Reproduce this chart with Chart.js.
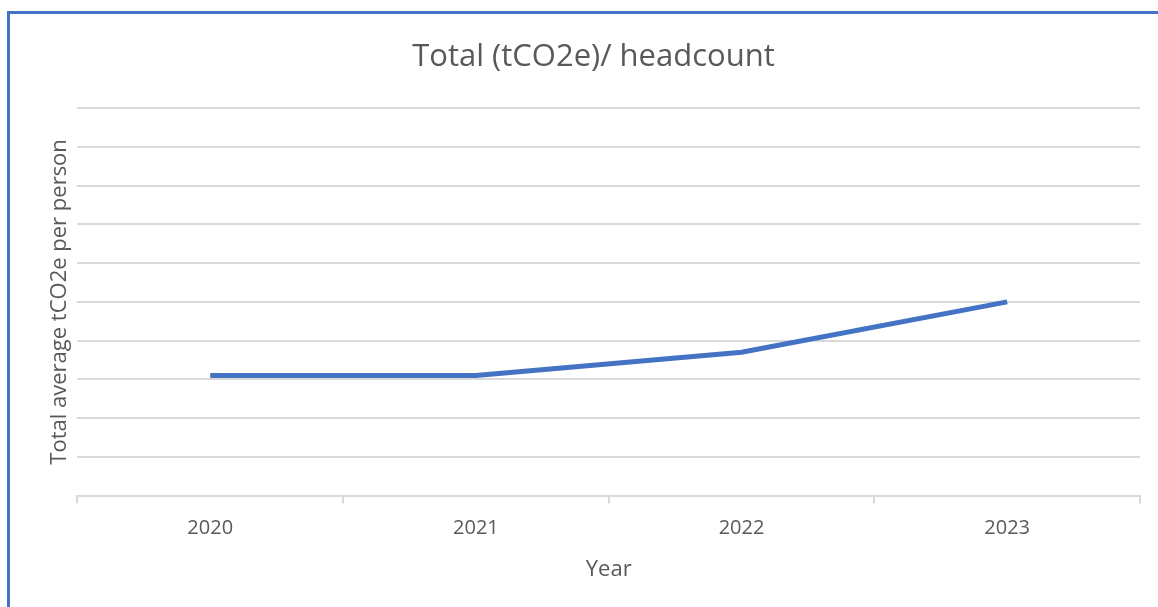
<!DOCTYPE html>
<html>
<head>
<meta charset="utf-8">
<script src="https://cdn.jsdelivr.net/npm/chart.js@4"></script>
<style>
  body { margin: 0; background: #fff; }
  #frame { position: absolute; left: 7px; top: 11px; width: 1200px; height: 700px;
           border-left: 3px solid #4472C4; border-top: 3px solid #4472C4; }
  #wrap { position: absolute; left: 0; top: 0; width: 1158px; height: 607px; }
</style>
</head>
<body>
<div id="frame"></div>
<div id="wrap"><canvas id="chart"></canvas></div>
<script>
var years = ["2020", "2021", "2022", "2023"];
var perPerson = [3.1, 3.1, 3.7, 5.0];

var grey = '#595959';
var gridGrey = '#d9d9d9';

var myChart = new Chart(document.getElementById('chart'), {
    type: 'line',
    data: {
        labels: years,
        datasets: [{
            label: 'Total (tCO2e)/ headcount',
            data: perPerson,
            borderColor: '#4472C4',
            borderWidth: 5,
            pointRadius: 0,
            fill: false,
            tension: 0
        }]
    },
    options: {
        responsive: true,
        maintainAspectRatio: false,
        animation: false,
        layout: { padding: { left: 47, right: 18, top: 39, bottom: 24 } },
        plugins: {
            legend: { display: false },
            tooltip: { enabled: false },
            title: {
                display: true,
                text: 'Total (tCO2e)/ headcount',
                color: grey,
                font: { family: 'Open Sans', size: 31, weight: 'normal' },
                padding: { top: 0, bottom: 32 }
            }
        },
        scales: {
            x: {
                offset: true,
                grid: {
                    display: true,
                    offset: true,
                    drawOnChartArea: false,
                    drawTicks: true,
                    tickLength: 8,
                    color: gridGrey,
                    lineWidth: 2
                },
                border: { display: true, color: gridGrey, width: 2 },
                ticks: {
                    color: grey,
                    font: { family: 'Open Sans', size: 20 },
                    padding: 13
                },
                title: {
                    display: true,
                    text: 'Year',
                    color: grey,
                    font: { family: 'Open Sans', size: 22 },
                    padding: { top: 3, bottom: 0 }
                }
            },
            y: {
                min: 0,
                max: 10,
                ticks: { stepSize: 1, display: false },
                grid: { color: gridGrey, lineWidth: 2, drawTicks: false },
                border: { display: false },
                title: {
                    display: true,
                    text: 'Total average tCO2e per person',
                    color: grey,
                    font: { family: 'Open Sans', size: 22 },
                    padding: { top: 0, bottom: 4 }
                }
            }
        }
    }
});
</script>
</body>
</html>
